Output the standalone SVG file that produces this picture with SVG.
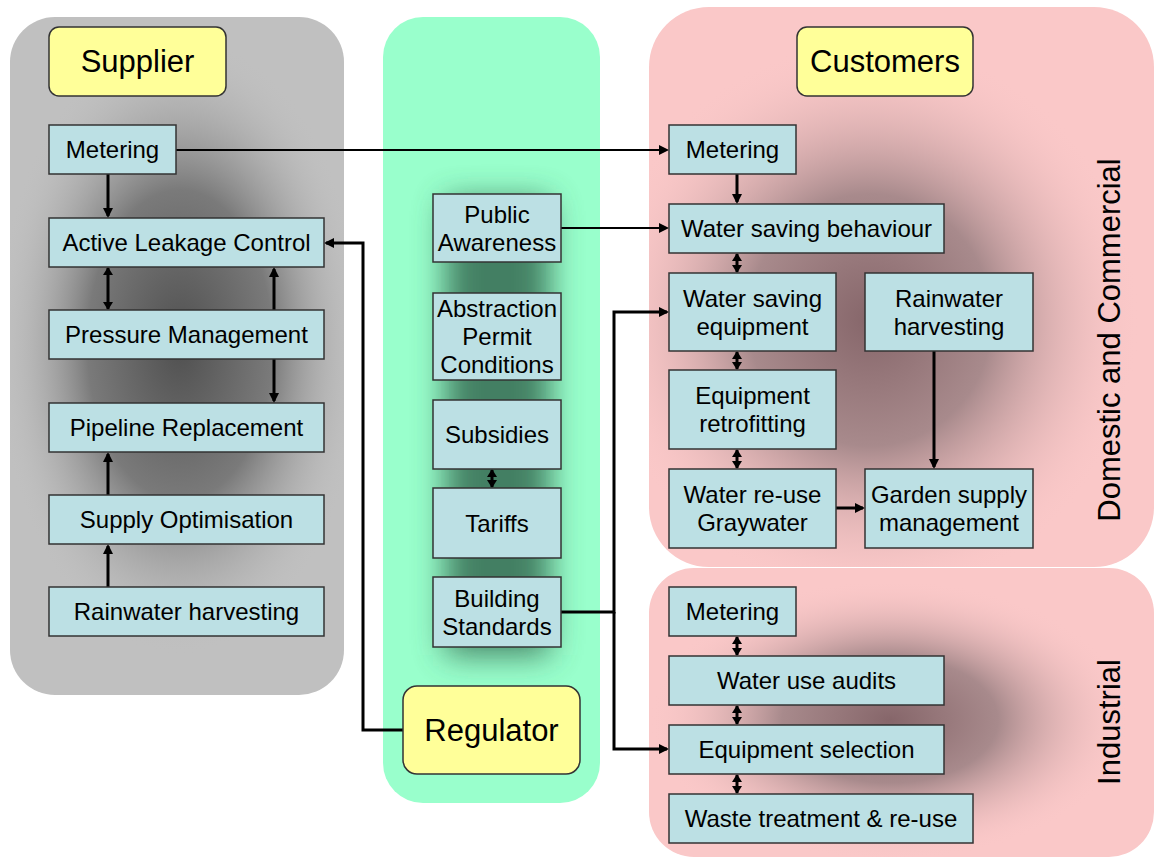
<svg xmlns="http://www.w3.org/2000/svg" width="1156" height="858" viewBox="0 0 1156 858">
<style>
.n{fill:#bce0e4;stroke:#333;stroke-width:1.5}
.y{fill:#ffff99;stroke:#333;stroke-width:1.5}
.t{font-family:"Liberation Sans",Arial,sans-serif;font-size:24px;text-anchor:middle;fill:#000}
.h{font-family:"Liberation Sans",Arial,sans-serif;font-size:31px;text-anchor:middle;fill:#000}
.c{fill:none;stroke:#000;stroke-width:3}
.c2{fill:none;stroke:#000;stroke-width:2}
</style>
<defs>
<marker id="ah" viewBox="0 0 10 10" refX="8" refY="5" markerWidth="10" markerHeight="10" markerUnits="userSpaceOnUse" orient="auto-start-reverse">
<path d="M0,0 L10,5 L0,10 z" fill="#000"/>
</marker>
<marker id="ab" viewBox="0 0 8 10" refX="7" refY="5" markerWidth="8" markerHeight="10" markerUnits="userSpaceOnUse" orient="auto-start-reverse">
<path d="M0,0 L8,5 L0,10 z" fill="#000"/>
</marker>
<radialGradient id="gGray" cx="0.5" cy="0.5" r="0.5">
<stop offset="0" stop-color="#505050"/>
<stop offset="0.5" stop-color="#7a7a7a"/>
<stop offset="1" stop-color="#c0c0c0" stop-opacity="0"/>
</radialGradient>
<radialGradient id="gPink" cx="0.5" cy="0.5" r="0.5">
<stop offset="0" stop-color="#86666a"/>
<stop offset="0.45" stop-color="#a88a8c"/>
<stop offset="1" stop-color="#fac8c8" stop-opacity="0"/>
</radialGradient>
<filter id="blurG" x="-50%" y="-50%" width="200%" height="200%"><feGaussianBlur stdDeviation="16"/></filter>
<clipPath id="cpS"><rect x="10" y="17" width="334" height="678" rx="45"/></clipPath>
<clipPath id="cpC"><rect x="649" y="7" width="505" height="560" rx="60"/></clipPath>
<clipPath id="cpI"><rect x="649" y="568" width="505" height="289" rx="45"/></clipPath>
<clipPath id="cpM"><rect x="383" y="17" width="217" height="786" rx="40"/></clipPath>
</defs>

<g id="panels">
<rect x="10" y="17" width="334" height="678" rx="45" fill="#c0c0c0"/>
<ellipse cx="180" cy="345" rx="185" ry="310" fill="url(#gGray)" clip-path="url(#cpS)"/>
<rect x="383" y="17" width="217" height="786" rx="40" fill="#99ffcc"/>
<g clip-path="url(#cpM)"><rect x="445" y="200" width="105" height="455" fill="#2f6048" opacity="0.8" filter="url(#blurG)"/></g>
<rect x="649" y="7" width="505" height="560" rx="60" fill="#fac8c8"/>
<ellipse cx="870" cy="320" rx="270" ry="280" fill="url(#gPink)" clip-path="url(#cpC)"/>
<rect x="649" y="568" width="505" height="289" rx="45" fill="#fac8c8"/>
<ellipse cx="890" cy="720" rx="240" ry="140" fill="url(#gPink)" clip-path="url(#cpI)"/>
<text class="h" transform="translate(1120,340) rotate(-90)">Domestic and Commercial</text>
<text class="h" transform="translate(1120,722) rotate(-90)">Industrial</text>
</g>

<g id="connectors">
<path class="c" d="M108,174 V216" marker-end="url(#ah)"/>
<path class="c" d="M108,268 V309" marker-start="url(#ab)" marker-end="url(#ab)"/>
<path class="c" d="M274,310 V269" marker-end="url(#ah)"/>
<path class="c" d="M274,359 V401" marker-end="url(#ah)"/>
<path class="c" d="M108,495 V454" marker-end="url(#ah)"/>
<path class="c" d="M108,587 V546" marker-end="url(#ah)"/>
<path class="c" d="M403,730 H363 V243 H326" marker-end="url(#ah)"/>
<path class="c2" d="M176,150 H667" marker-end="url(#ah)"/>
<path class="c2" d="M561,228 H667" marker-end="url(#ah)"/>
<path class="c" d="M561,612 H614 V312 H667" marker-end="url(#ah)"/>
<path class="c" d="M614,612 V749 H667" marker-end="url(#ah)"/>
<path class="c" d="M492,470 V487" marker-start="url(#ab)" marker-end="url(#ab)"/>
<path class="c" d="M737,174 V202" marker-end="url(#ah)"/>
<path class="c" d="M737,254 V272" marker-start="url(#ab)" marker-end="url(#ab)"/>
<path class="c" d="M737,352 V369" marker-start="url(#ab)" marker-end="url(#ab)"/>
<path class="c" d="M737,450 V468" marker-start="url(#ab)" marker-end="url(#ab)"/>
<path class="c" d="M934,351 V467" marker-end="url(#ah)"/>
<path class="c" d="M836,508 H863" marker-end="url(#ah)"/>
<path class="c" d="M737,637 V655" marker-start="url(#ab)" marker-end="url(#ab)"/>
<path class="c" d="M737,706 V724" marker-start="url(#ab)" marker-end="url(#ab)"/>
<path class="c" d="M737,775 V793" marker-start="url(#ab)" marker-end="url(#ab)"/>
</g>

<g id="supplier"><rect class="y" x="49" y="27" width="177" height="69" rx="10"/><text class="h" x="137.5" y="72">Supplier</text></g>
<g id="s_metering"><rect class="n" x="49" y="125" width="127" height="49"/><text class="t" x="112.5" y="158">Metering</text></g>
<g id="s_alc"><rect class="n" x="49" y="218" width="275" height="49"/><text class="t" x="186.5" y="251">Active Leakage Control</text></g>
<g id="s_pm"><rect class="n" x="49" y="310" width="275" height="49"/><text class="t" x="186.5" y="343">Pressure Management</text></g>
<g id="s_pr"><rect class="n" x="49" y="403" width="275" height="49"/><text class="t" x="186.5" y="436">Pipeline Replacement</text></g>
<g id="s_so"><rect class="n" x="49" y="495" width="275" height="49"/><text class="t" x="186.5" y="528">Supply Optimisation</text></g>
<g id="s_rh"><rect class="n" x="49" y="587" width="275" height="49"/><text class="t" x="186.5" y="620">Rainwater harvesting</text></g>

<g id="r_public"><rect class="n" x="433" y="194" width="128" height="68"/><text class="t" x="497" y="222.5">Public</text><text class="t" x="497" y="250.5">Awareness</text></g>
<g id="r_abstraction"><rect class="n" x="433" y="293" width="128" height="87"/><text class="t" x="497" y="316.5">Abstraction</text><text class="t" x="497" y="344.5">Permit</text><text class="t" x="497" y="372.5">Conditions</text></g>
<g id="r_subsidies"><rect class="n" x="433" y="400" width="128" height="69"/><text class="t" x="497" y="443">Subsidies</text></g>
<g id="r_tariffs"><rect class="n" x="433" y="488" width="128" height="70"/><text class="t" x="497" y="531.5">Tariffs</text></g>
<g id="r_building"><rect class="n" x="433" y="577" width="128" height="70"/><text class="t" x="497" y="606.5">Building</text><text class="t" x="497" y="634.5">Standards</text></g>
<g id="regulator"><rect class="y" x="403" y="686" width="177" height="88" rx="14"/><text class="h" x="491.5" y="741">Regulator</text></g>

<g id="customers"><rect class="y" x="797" y="27" width="176" height="69" rx="10"/><text class="h" x="885" y="72">Customers</text></g>
<g id="c_metering"><rect class="n" x="669" y="125" width="127" height="49"/><text class="t" x="732.5" y="158">Metering</text></g>
<g id="c_wsb"><rect class="n" x="669" y="204" width="275" height="49"/><text class="t" x="806.5" y="237">Water saving behaviour</text></g>
<g id="c_wse"><rect class="n" x="669" y="273" width="167" height="78"/><text class="t" x="752.5" y="306.5">Water saving</text><text class="t" x="752.5" y="334.5">equipment</text></g>
<g id="c_rh"><rect class="n" x="865" y="273" width="168" height="78"/><text class="t" x="949" y="306.5">Rainwater</text><text class="t" x="949" y="334.5">harvesting</text></g>
<g id="c_er"><rect class="n" x="669" y="370" width="167" height="79"/><text class="t" x="752.5" y="404">Equipment</text><text class="t" x="752.5" y="432">retrofitting</text></g>
<g id="c_wru"><rect class="n" x="669" y="469" width="167" height="79"/><text class="t" x="752.5" y="503">Water re-use</text><text class="t" x="752.5" y="531">Graywater</text></g>
<g id="c_gsm"><rect class="n" x="865" y="469" width="168" height="79"/><text class="t" x="949" y="503">Garden supply</text><text class="t" x="949" y="531">management</text></g>

<g id="i_metering"><rect class="n" x="669" y="587" width="127" height="49"/><text class="t" x="732.5" y="620">Metering</text></g>
<g id="i_wua"><rect class="n" x="669" y="656" width="275" height="49"/><text class="t" x="806.5" y="689">Water use audits</text></g>
<g id="i_es"><rect class="n" x="669" y="725" width="275" height="49"/><text class="t" x="806.5" y="758">Equipment selection</text></g>
<g id="i_wt"><rect class="n" x="669" y="794" width="304" height="49"/><text class="t" x="821" y="827">Waste treatment &amp; re-use</text></g>
</svg>
